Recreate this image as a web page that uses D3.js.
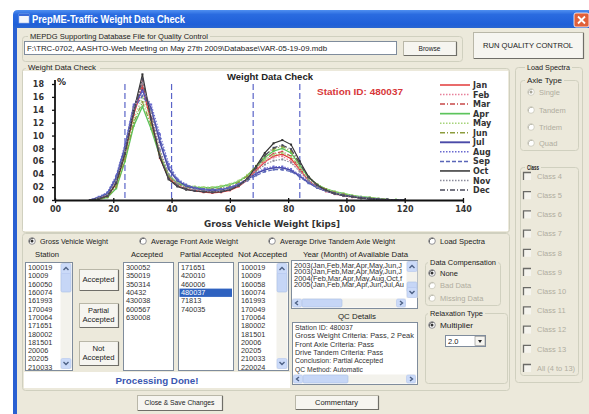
<!DOCTYPE html>
<html><head><meta charset="utf-8">
<script src="https://cdn.jsdelivr.net/npm/d3@7"></script>
<style>
html,body{margin:0;padding:0;background:#fff;}
svg{display:block;font-family:"Liberation Sans",Arial,sans-serif;}
</style></head><body>
<svg id="c" width="589" height="414"></svg>
<script>
// ---------------- DATA ----------------
const months = ["Jan","Feb","Mar","Apr","May","Jun","Jul","Aug","Sep","Oct","Nov","Dec"];
const weightBins = [12,15,18,21,24,27,30,33,36,39,42,45,48,51,54,57,60,63,66,69,72,75,78,81,84,87,90,93,96,99,102,105,108,111,114,117,120];
const jan = [0,0.2,0.6,2.5,7.0,13.2,17.5,12.0,6.5,3.4,2.2,1.7,1.4,1.2,1.1,1.2,1.5,2.1,3.1,4.6,5.9,6.8,7.1,6.4,4.7,3.0,2.0,1.4,1.0,0.7,0.5,0.3,0.2,0.1,0.05,0,0];
const feb = [0,0.3,0.8,3.0,7.8,14.0,18.5,13.5,7.5,3.8,2.4,1.8,1.5,1.3,1.2,1.3,1.6,2.2,3.2,4.8,6.0,6.6,6.8,6.0,4.5,2.9,1.9,1.3,0.9,0.6,0.4,0.3,0.2,0.1,0.05,0,0];
const mar = [0,0.2,0.7,2.8,7.4,13.6,18.0,12.8,7.0,3.6,2.3,1.8,1.5,1.3,1.2,1.3,1.6,2.2,3.3,4.9,6.3,7.2,7.5,6.8,5.0,3.2,2.1,1.5,1.0,0.7,0.5,0.3,0.2,0.1,0.05,0,0];
const apr = [0,0.1,0.4,1.8,6.0,11.5,14.5,11.0,6.8,3.8,2.6,2.2,2.0,1.9,1.9,2.1,2.4,2.9,3.8,5.2,6.6,7.6,8.0,7.3,5.4,3.5,2.4,1.7,1.3,1.0,0.7,0.5,0.4,0.2,0.1,0.05,0];
const may = [0,0.2,0.5,2.2,6.6,12.4,16.0,12.2,7.2,3.9,2.7,2.3,2.1,2.0,2.0,2.2,2.5,3.0,3.9,5.1,6.2,7.0,7.3,6.7,5.0,3.3,2.3,1.7,1.3,1.0,0.7,0.5,0.4,0.2,0.1,0.05,0];
const jun = [0,0.1,0.5,2.0,6.3,12.0,15.2,11.6,6.9,3.7,2.5,2.0,1.8,1.7,1.7,1.8,2.1,2.7,3.7,5.3,6.9,7.9,8.3,7.6,5.6,3.6,2.4,1.7,1.2,0.9,0.6,0.4,0.3,0.2,0.1,0,0];
const jul = [0,0.4,1.0,3.4,8.2,14.5,17.0,14.2,9.0,4.8,3.0,2.2,1.8,1.6,1.5,1.6,1.9,2.4,3.2,4.1,4.7,5.0,5.0,4.6,3.7,2.7,1.9,1.4,1.0,0.7,0.5,0.3,0.2,0.1,0.05,0,0];
const aug = [0,0.5,1.2,3.8,8.6,14.8,16.8,14.8,10.2,5.6,3.3,2.4,1.9,1.7,1.6,1.7,2.0,2.5,3.3,4.2,4.9,5.2,5.2,4.8,3.9,2.8,2.0,1.5,1.1,0.8,0.5,0.4,0.2,0.1,0.05,0,0];
const sep = [0,0.4,1.1,3.6,8.0,14.0,16.2,14.0,9.6,5.2,3.1,2.3,1.9,1.7,1.6,1.7,1.9,2.3,3.0,3.8,4.4,4.7,4.7,4.4,3.6,2.6,1.9,1.4,1.0,0.7,0.5,0.3,0.2,0.1,0.05,0,0];
const oct = [0,0.2,0.6,2.6,7.2,13.8,19.5,12.5,6.6,3.2,2.1,1.6,1.4,1.3,1.2,1.3,1.6,2.2,3.3,5.2,7.3,8.8,9.3,8.6,6.0,3.6,2.3,1.5,1.0,0.7,0.5,0.3,0.2,0.1,0.05,0,0];
const nov = [0,0.3,0.8,3.0,7.6,14.2,18.0,13.6,7.8,4.0,2.5,1.9,1.6,1.4,1.3,1.4,1.7,2.2,3.1,4.4,5.5,6.1,6.3,5.8,4.4,3.0,2.0,1.4,1.0,0.7,0.5,0.3,0.2,0.1,0.05,0,0];
const dec = [0,0.2,0.6,2.7,7.3,13.5,18.8,12.6,6.8,3.3,2.2,1.7,1.4,1.3,1.2,1.3,1.6,2.2,3.3,5.0,6.9,8.1,8.5,7.9,5.7,3.5,2.3,1.5,1.0,0.7,0.5,0.3,0.2,0.1,0.05,0,0];
const seriesValues = [jan,feb,mar,apr,may,jun,jul,aug,sep,oct,nov,dec];
const xTickValues = [0,20,40,60,80,100,120,140];
const xTickLabels = ["00","20","40","60","80","100","120","140"];
const yTickValues = [0,2,4,6,8,10,12,14,16,18];
const yTickLabels = ["00","02","04","06","08","10","12","14","16","18"];
const limitWeights = [24,40,68,84];
const stations = ["100019","10009","160050","160074","161993","170049","170064","171651","180002","181501","20006","20205","210033"];
const accepted = ["300052","350019","350314","40432","430038","600567","630008"];
const partialAccepted = ["171651","420010","460006","480037","71813","740035"];
const notAccepted = ["100019","10009","160058","160074","161993","170049","170064","180002","181501","20006","20205","210033","220024"];
const availableYears = ["2003(Jan,Feb,Mar,Apr,May,Jun,J","2003(Jan,Feb,Mar,Apr,May,Jun,J","2004(Feb,Mar,Apr,May,Aug,Oct,f","2005(Jan,Feb,Mar,Apr,Jun,Jul,Au"];
const qcDetails = ["Station ID: 480037","Gross Weight Criteria: Pass, 2 Peak","Front Axle Criteria: Pass","Drive Tandem Criteria: Pass","Conclusion: Partial Accepted","QC Method: Automatic"];
const axleTypes = ["Single","Tandem","Tridem","Quad"];
const classes = ["Class 4","Class 5","Class 6","Class 7","Class 8","Class 9","Class 10","Class 11","Class 12","Class 13","All (4 to 13)"];
const weightOptions = ["Gross Vehicle Weight","Average Front Axle Weight","Average Drive Tandem Axle Weight","Load Spectra"];
const compensation = ["None","Bad Data","Missing Data"];

// ---------------- STYLES ----------------
const seriesStyles = [
 {c:"#e23a3a",d:null,w:1.2},{c:"#e8809a",d:"1.5,1.5",w:1.2},{c:"#c84848",d:"5,2,1,2",w:1.2},
 {c:"#5cc45c",d:null,w:1.4},{c:"#a6d47a",d:"1.5,1.5",w:1.2},{c:"#8c9c3c",d:"5,2,1,2",w:1.2},
 {c:"#4a4aa8",d:null,w:1.6},{c:"#6a6ad0",d:"1.5,1.5",w:1.2},{c:"#5a66b8",d:"4,2",w:1.2},
 {c:"#333333",d:null,w:1.2},{c:"#8a8a9a",d:"1.5,1.5",w:1.2},{c:"#4a4a5a",d:"5,2,1,2",w:1.2}];
const BG = "#ECE9DB", DIS = "#b0ad9f", TXT = "#222";

const svg = d3.select("#c");
svg.append("rect").attr("width",589).attr("height",414).attr("fill","#fff");

// window
const tg = svg.append("defs").append("linearGradient").attr("id","tb").attr("x1",0).attr("y1",0).attr("x2",0).attr("y2",1);
tg.append("stop").attr("offset","0").attr("stop-color","#4f8ff0");
tg.append("stop").attr("offset","0.25").attr("stop-color","#2a6be0");
tg.append("stop").attr("offset","0.8").attr("stop-color","#1f5fd8");
tg.append("stop").attr("offset","1").attr("stop-color","#2a66d0");
svg.append("path").attr("d","M13,28 L13,15 Q13,10 18,10 L589,10 L589,28 Z").attr("fill","url(#tb)");
svg.append("rect").attr("x",13).attr("y",28).attr("width",576).attr("height",386).attr("fill",BG);
svg.append("rect").attr("x",13).attr("y",28).attr("width",4).attr("height",386).attr("fill","#2a60d2");
// icon
svg.append("rect").attr("x",19).attr("y",14).attr("width",10).attr("height",9).attr("fill","#f4f6fb").attr("stroke","#9fb5e8").attr("stroke-width",0.6);
svg.append("rect").attr("x",19).attr("y",14).attr("width",10).attr("height",2).attr("fill","#3a6ad8");
svg.append("text").attr("x",32).attr("y",22.5).attr("fill","#fff").attr("font-weight","bold").attr("font-size",10)
  .attr("textLength",153).attr("lengthAdjust","spacingAndGlyphs").text("PrepME-Traffic Weight Data Check");
// close
svg.append("rect").attr("x",574).attr("y",13).attr("width",15).attr("height",14).attr("rx",2).attr("fill","#e0603a").attr("stroke","#fff").attr("stroke-width",0.8);
svg.append("path").attr("d","M578,16.5 L585,23.5 M585,16.5 L578,23.5").attr("stroke","#fff").attr("stroke-width",1.8);

// helpers
function txt(x,y,s,o={}){
  const t = svg.append("text").attr("x",x).attr("y",y).attr("font-size",o.fs||7.5).attr("fill",o.fill||TXT).text(s);
  if(o.anchor) t.attr("text-anchor",o.anchor);
  if(o.bold) t.attr("font-weight","bold");
  if(o.len) t.attr("textLength",o.len).attr("lengthAdjust","spacingAndGlyphs");
  if(o.family) t.attr("font-family",o.family);
  return t;
}
function group(x,y,w,h,label,lx,lw,o={}){
  svg.append("rect").attr("x",x+0.5).attr("y",y+0.5).attr("width",w).attr("height",h).attr("rx",3)
    .attr("fill","none").attr("stroke","#d0d0bf");
  if(label){
    svg.append("rect").attr("x",lx-2).attr("y",y-4).attr("width",lw+4).attr("height",8).attr("fill",BG);
    txt(lx,y+2.8,label,{len:lw,bold:o.bold,fill:o.fill});
  }
}
function button(x,y,w,h,lines,o={}){
  svg.append("rect").attr("x",x+0.5).attr("y",y+0.5).attr("width",w).attr("height",h).attr("fill","#f6f5f0").attr("stroke","#b9b7a8");
  svg.append("path").attr("d",`M${x+1},${y+h+0.5} L${x+w+0.5},${y+h+0.5} L${x+w+0.5},${y+1}`).attr("stroke","#6f6e68").attr("fill","none").attr("stroke-width",1.2);
  const n = lines.length, cy = y+h/2;
  lines.forEach((s,i)=>txt(x+w/2, cy+2.7+(i-(n-1)/2)*9, s, {anchor:"middle",fs:o.fs||7.5,len:o.len?o.len[i]:null}));
}
function listBox(x,y,w,h,items,o={}){
  svg.append("rect").attr("x",x+0.5).attr("y",y+0.5).attr("width",w).attr("height",h).attr("fill","#fff").attr("stroke","#7f8c9c");
  const sp = o.sp||8.3, fs=o.fs||7.3;
  items.forEach((s,i)=>{
    const yy = y+5.5+i*sp;
    if(o.sel===i){
      svg.append("rect").attr("x",x+1.5).attr("y",yy-3.8).attr("width",w-2.5).attr("height",sp).attr("fill","#2f62c0");
    }
    if(yy < y+h-2) txt(x+3, yy+2.6, s, {fs, fill:o.sel===i?"#fff":"#333", len:o.lens?o.lens[i]:null});
  });
}
function vScroll(x,y,h,thumbY,thumbH){
  svg.append("rect").attr("x",x).attr("y",y).attr("width",11).attr("height",h).attr("fill","#f3f2ec");
  svg.append("rect").attr("x",x+0.5).attr("y",thumbY).attr("width",10).attr("height",thumbH).attr("rx",1.5).attr("fill","#c6d6f6").attr("stroke","#aabfe8").attr("stroke-width",0.6);
  svg.append("rect").attr("x",x+0.5).attr("y",y+0.5).attr("width",10).attr("height",10).attr("rx",1.5).attr("fill","#cbdaf8").attr("stroke","#b4c6ee").attr("stroke-width",0.6);
  svg.append("rect").attr("x",x+0.5).attr("y",y+h-10.5).attr("width",10).attr("height",10).attr("rx",1.5).attr("fill","#cbdaf8").attr("stroke","#b4c6ee").attr("stroke-width",0.6);
  svg.append("path").attr("d",`M${x+3},${y+7} L${x+5.5},${y+4.5} L${x+8},${y+7}`).attr("stroke","#4d6185").attr("stroke-width",1.4).attr("fill","none");
  svg.append("path").attr("d",`M${x+3},${y+h-7} L${x+5.5},${y+h-4.5} L${x+8},${y+h-7}`).attr("stroke","#4d6185").attr("stroke-width",1.4).attr("fill","none");
}
function hScroll(x,y,w,thumbX,thumbW){
  svg.append("rect").attr("x",x).attr("y",y).attr("width",w).attr("height",9).attr("fill","#f3f2ec");
  svg.append("rect").attr("x",thumbX).attr("y",y+0.5).attr("width",thumbW).attr("height",8).attr("rx",1.5).attr("fill","#c6d6f6").attr("stroke","#aabfe8").attr("stroke-width",0.6);
  svg.append("rect").attr("x",x+0.5).attr("y",y+0.5).attr("width",9).attr("height",8).attr("rx",1.5).attr("fill","#cbdaf8").attr("stroke","#b4c6ee").attr("stroke-width",0.6);
  svg.append("rect").attr("x",x+w-9.5).attr("y",y+0.5).attr("width",9).attr("height",8).attr("rx",1.5).attr("fill","#cbdaf8").attr("stroke","#b4c6ee").attr("stroke-width",0.6);
  svg.append("path").attr("d",`M${x+6},${y+2.5} L${x+3.5},${y+4.5} L${x+6},${y+6.5}`).attr("stroke","#4d6185").attr("stroke-width",1.4).attr("fill","none");
  svg.append("path").attr("d",`M${x+w-6},${y+2.5} L${x+w-3.5},${y+4.5} L${x+w-6},${y+6.5}`).attr("stroke","#4d6185").attr("stroke-width",1.4).attr("fill","none");
}
function radio(cx,cy,label,o={}){
  svg.append("circle").attr("cx",cx).attr("cy",cy).attr("r",3.3).attr("fill","#fff").attr("stroke",o.dis?"#c8c6b8":"#7a7a80").attr("stroke-width",0.8);
  svg.append("path").attr("d",`M${cx-2.6},${cy+1.5} A3.3,3.3 0 0 1 ${cx+1.5},${cy-2.6}`).attr("stroke",o.dis?"#b8b6a8":"#555").attr("fill","none").attr("stroke-width",1);
  if(o.on) svg.append("circle").attr("cx",cx).attr("cy",cy).attr("r",1.5).attr("fill",o.dis?"#a8a698":"#333");
  txt(cx+8,cy+2.7,label,{fill:o.dis?DIS:TXT,len:o.len});
}
function checkbox(x,y,label,len){
  svg.append("rect").attr("x",x).attr("y",y).attr("width",8).attr("height",8).attr("fill","#f5f4ee");
  svg.append("path").attr("d",`M${x+0.5},${y+8} L${x+0.5},${y+0.5} L${x+8},${y+0.5}`).attr("stroke","#6a6a66").attr("stroke-width",1.3).attr("fill","none");
  txt(x+14,y+6.7,label,{fill:DIS,len});
}

// ---------- top group ----------
group(22,36,440,25,"MEPDG Supporting Database File for Quality Control",30,178);
svg.append("rect").attr("x",24.5).attr("y",41.5).attr("width",372).attr("height",13).attr("fill","#fff").attr("stroke","#7f8c9c");
txt(27,51,"F:\\TRC-0702, AASHTO-Web Meeting on May 27th 2009\\Database\\VAR-05-19-09.mdb",{fs:7.3,len:300});
button(403,41,53,14,["Browse"],{len:[22]});
button(473,32,110,26,["RUN QUALITY CONTROL"],{len:[90]});

// ---------- chart ----------
group(22,68,487,164,null);
svg.append("rect").attr("x",23).attr("y",71).attr("width",485).attr("height",160).attr("fill","#fff");
svg.append("rect").attr("x",26).attr("y",63).attr("width",74).attr("height",8).attr("fill",BG);
txt(28,69.5,"Weight Data Check",{len:68});

const x = d3.scaleLinear().domain([0,140]).range([55,463]);
const y = d3.scaleLinear().domain([0,18]).range([200,84]);
const chart = svg.append("g");
chart.selectAll("line.lim").data(limitWeights).join("line").attr("class","lim")
  .attr("x1",d=>x(d)).attr("x2",d=>x(d)).attr("y1",y(18)).attr("y2",y(0))
  .attr("stroke","#5a64c8").attr("stroke-width",1.2).attr("stroke-dasharray","6,3");

const line = d3.line().x((d,i)=>x(weightBins[i])).y(d=>y(d));
seriesValues.forEach((vals,k)=>{
  const st = seriesStyles[k];
  chart.append("path").datum(vals).attr("d",line).attr("fill","none").attr("stroke",st.c)
    .attr("stroke-width",st.w).attr("stroke-dasharray",st.d);
  chart.selectAll(null).data(vals).join("rect")
    .attr("x",(d,i)=>x(weightBins[i])-1).attr("y",d=>y(d)-1).attr("width",2).attr("height",2).attr("fill",st.c);
});

const xAxis = chart.append("g").attr("transform",`translate(0,${y(0)})`)
  .call(d3.axisBottom(x).tickValues(xTickValues).tickFormat((d,i)=>xTickLabels[i]).tickSize(3).tickSizeOuter(0).tickPadding(3));
const yAxis = chart.append("g").attr("transform",`translate(${x(0)},0)`)
  .call(d3.axisLeft(y).tickValues(yTickValues).tickFormat((d,i)=>yTickLabels[i]).tickSize(3).tickSizeOuter(0).tickPadding(8));
[xAxis,yAxis].forEach(a=>{
  a.select(".domain").attr("stroke","#111").attr("stroke-width",1.8);
  a.selectAll(".tick line").attr("stroke","#111").attr("stroke-width",1.3);
  a.selectAll("text").attr("font-family","DejaVu Sans").attr("font-weight","bold").attr("font-size",8).attr("fill","#333");
});
yAxis.select(".domain").attr("d",`M0,${y(0)}V${y(18)-4}`);
xAxis.selectAll(".tick line").attr("y1",-2);
txt(57,85,"%",{bold:true,fs:9,family:"DejaVu Sans",fill:"#222"});
txt(270,79.5,"Weight Data Check",{bold:true,fs:8.5,anchor:"middle",len:86,fill:"#222"});
txt(317,95,"Station ID: 480037",{bold:true,fs:8.5,fill:"#d8383a",len:86});
txt(272,227,"Gross Vehicle Weight [kips]",{bold:true,fs:8.5,anchor:"middle",len:136,family:"DejaVu Sans",fill:"#333"});

// legend
months.forEach((m,k)=>{
  const st = seriesStyles[k], ly = 85+k*9.55;
  chart.append("line").attr("x1",440).attr("x2",470).attr("y1",ly).attr("y2",ly).attr("stroke",st.c).attr("stroke-width",st.w+0.3).attr("stroke-dasharray",st.d);
  txt(473,ly+3,m,{bold:true,fs:8,family:"DejaVu Sans",fill:"#333"});
});

// ---------- Load spectra panel ----------
group(515,67,67,315,"Load Spectra",527,43);
group(520,80,58,70,"Axle Type",527,35);
axleTypes.forEach((a,i)=>radio(531,[92,110,127,143][i],a,{dis:true,on:i===0}));
group(520,167,58,208,"Class",527,12,{bold:true});
classes.forEach((c,i)=>checkbox(523,172+i*19.2,c,c.length>8?38:null));

// ---------- lower area ----------
group(22,233,487,157,null);
radio(32,241,weightOptions[0],{on:true,len:68});
radio(143,241,weightOptions[1],{len:87});
radio(272,241,weightOptions[2],{len:115});
radio(432,241,weightOptions[3],{len:45});

txt(47,256.5,"Station",{anchor:"middle",len:24});
txt(147,256.5,"Accepted",{anchor:"middle",len:32});
txt(180,256.5,"Partial Accepted",{len:53});
txt(238,256.5,"Not Accepted",{len:49});
txt(303,256.5,"Year (Month) of Available Data",{len:105});

svg.append("rect").attr("x",24).attr("y",372).attr("width",266).attr("height",16).attr("fill","#fff");
listBox(25,262,47,108,stations); vScroll(60.5,263,106,272,20);
button(79,269,39,21,["Accepted"],{len:[32]});
button(79,303,39,24,["Partial","Accepted"],{len:[21,32]});
button(79,341,39,24,["Not","Accepted"],{len:[12,32]});
listBox(123,262,50,108,accepted);
listBox(178,262,55,108,partialAccepted,{sel:3});
listBox(238,262,50,108,notAccepted); vScroll(276.5,263,106,272,20);
listBox(291,260,126,48,availableYears,{sp:6.2,fs:6.8,lens:[108,108,108,110]});
vScroll(406.5,261,37,282,10); hScroll(292,298.5,114,302,40);
txt(357,318.5,"QC Details",{anchor:"middle",len:38});
listBox(292,322,125,62,qcDetails,{fs:7.3,lens:[58,119,79,88,88,68]});
hScroll(293,374.5,123,303,45);

group(425,262,75,43,"Data Compensation",430,66);
compensation.forEach((c,i)=>radio(432,[273,285.5,298][i],c,{on:i===0,dis:i>0}));
group(425,313,82,70,"Relaxation Type",430,53);
radio(432,325,"Multiplier",{on:true,len:33});
svg.append("rect").attr("x",445.5).attr("y",335.5).attr("width",40).attr("height",11).attr("fill","#fff").attr("stroke","#7f8c9c");
txt(448,344,"2.0",{fs:7.5});
svg.append("rect").attr("x",475).attr("y",336.5).attr("width",10).attr("height",9).attr("fill","#f6f5f0").attr("stroke","#888").attr("stroke-width",0.6);
svg.append("path").attr("d","M478,340 L482,340 L480,343 Z").attr("fill","#222");

txt(157,383.5,"Processing Done!",{bold:true,fs:9.5,anchor:"middle",fill:"#3956b0",len:83});
button(137,395,85,15,["Close & Save Changes"],{len:[70]});
button(295,395,83,14,["Commentary"],{len:[43]});
</script></body></html>
